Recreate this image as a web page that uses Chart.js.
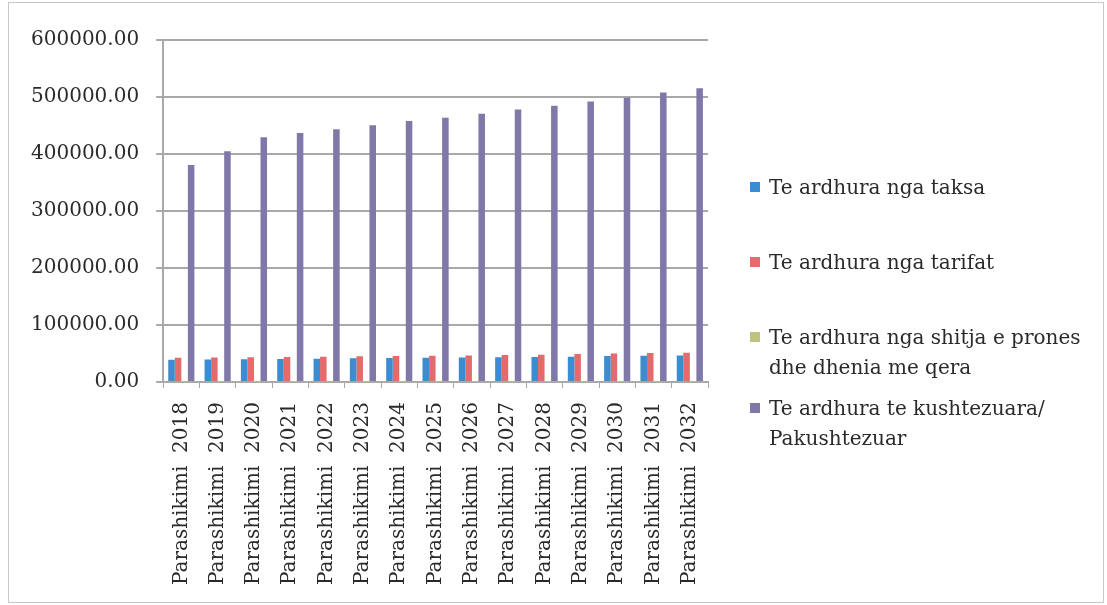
<!DOCTYPE html>
<html>
<head>
<meta charset="utf-8">
<script src="https://cdn.jsdelivr.net/npm/chart.js@4.4.1/dist/chart.umd.min.js"></script>
<style>
    body { margin: 0; background: #fff; }
    .wrap { position: relative; width: 1107px; height: 605px; }
    .frame { position: absolute; left: 8px; top: 2px; width: 1096px; height: 601px; border: 1px solid #c8c8c8; box-sizing: border-box; pointer-events: none; }
    #legend { position: absolute; left: 0; top: 0; }
    .item { position: absolute; left: 750px; width: 352px; font-family: "DejaVu Serif", serif; font-size: 20px; line-height: 30px; color: #2a2a2a; }
    .item .box { position: absolute; left: 0; top: 10px; width: 10px; height: 10px; }
    .item .txt { position: absolute; left: 19px; width: 336px; }
</style>
</head>
<body>
<div class="wrap">
    <canvas id="revenue" width="1107" height="605"></canvas>
    <div class="frame"></div>
    <div id="legend"></div>
</div>
<script>
// data
const years = ['2018', '2019', '2020', '2021', '2022', '2023', '2024', '2025', '2026', '2027', '2028', '2029', '2030', '2031', '2032'];
const categories = years.map(y => 'Parashikimi  ' + y);

const taksa = [39000, 39500, 40000, 40500, 41000, 41500, 42000, 42500, 43000, 43500, 44000, 44500, 45500, 46000, 46500];
const tarifat = [42500, 43000, 43500, 44000, 44500, 45000, 45500, 46000, 46500, 47500, 48000, 49000, 50000, 51000, 51500];
const shitja = [300, 300, 300, 300, 300, 300, 300, 300, 300, 300, 300, 300, 300, 300, 300];
const kushtezuara = [380500, 405000, 429500, 437000, 443500, 450500, 458000, 463500, 470500, 478000, 484500, 492000, 498500, 508000, 515500];

const seriesNames = [
    'Te ardhura nga taksa',
    'Te ardhura nga tarifat',
    'Te ardhura nga shitja e prones dhe dhenia me qera',
    'Te ardhura te kushtezuara/ Pakushtezuar'
];
const seriesColors = ['#3a8dd0', '#e36b6b', '#bec47e', '#8078a8'];

const yTicks = [0, 100000, 200000, 300000, 400000, 500000, 600000];

const font = { family: '"DejaVu Serif", serif', size: 20 };
const gridColor = '#a9a9a9';

const ctx = document.getElementById('revenue').getContext('2d');
const chart = new Chart(ctx, {
    type: 'bar',
    data: {
        labels: categories,
        datasets: [taksa, tarifat, shitja, kushtezuara].map((values, i) => ({
            label: seriesNames[i],
            data: values,
            backgroundColor: seriesColors[i],
            borderWidth: 0,
            categoryPercentage: 0.72,
            barPercentage: 1.0
        }))
    },
    options: {
        responsive: false,
        animation: false,
        layout: { padding: { top: 40, right: 399, bottom: 6, left: 14 } },
        plugins: {
            legend: { display: false },
            tooltip: { enabled: false }
        },
        scales: {
            x: {
                ticks: { font: font, color: '#2a2a2a', minRotation: 90, maxRotation: 90, autoSkip: false, padding: 14 },
                grid: { display: true, drawOnChartArea: false, color: gridColor, tickLength: 6, offset: true },
                border: { color: gridColor, width: 2 }
            },
            y: {
                min: yTicks[0],
                max: yTicks[yTicks.length - 1],
                afterBuildTicks: axis => { axis.ticks = yTicks.map(v => ({ value: v })); },
                ticks: { font: font, color: '#2a2a2a', padding: 17, callback: v => v.toFixed(2) },
                grid: { color: gridColor, lineWidth: 2, tickLength: 7 },
                border: { color: gridColor, width: 2 }
            }
        }
    }
});

// legend on the right, built from the chart's datasets
const legend = document.getElementById('legend');
const legendTops = [172, 247, 322, 393];
chart.data.datasets.forEach((ds, i) => {
    legend.innerHTML += `
        <div class="item" style="top:${legendTops[i]}px">
            <span class="box" style="background:${ds.backgroundColor}"></span>
            <span class="txt">${ds.label}</span>
        </div>
    `;
});
</script>
</body>
</html>
